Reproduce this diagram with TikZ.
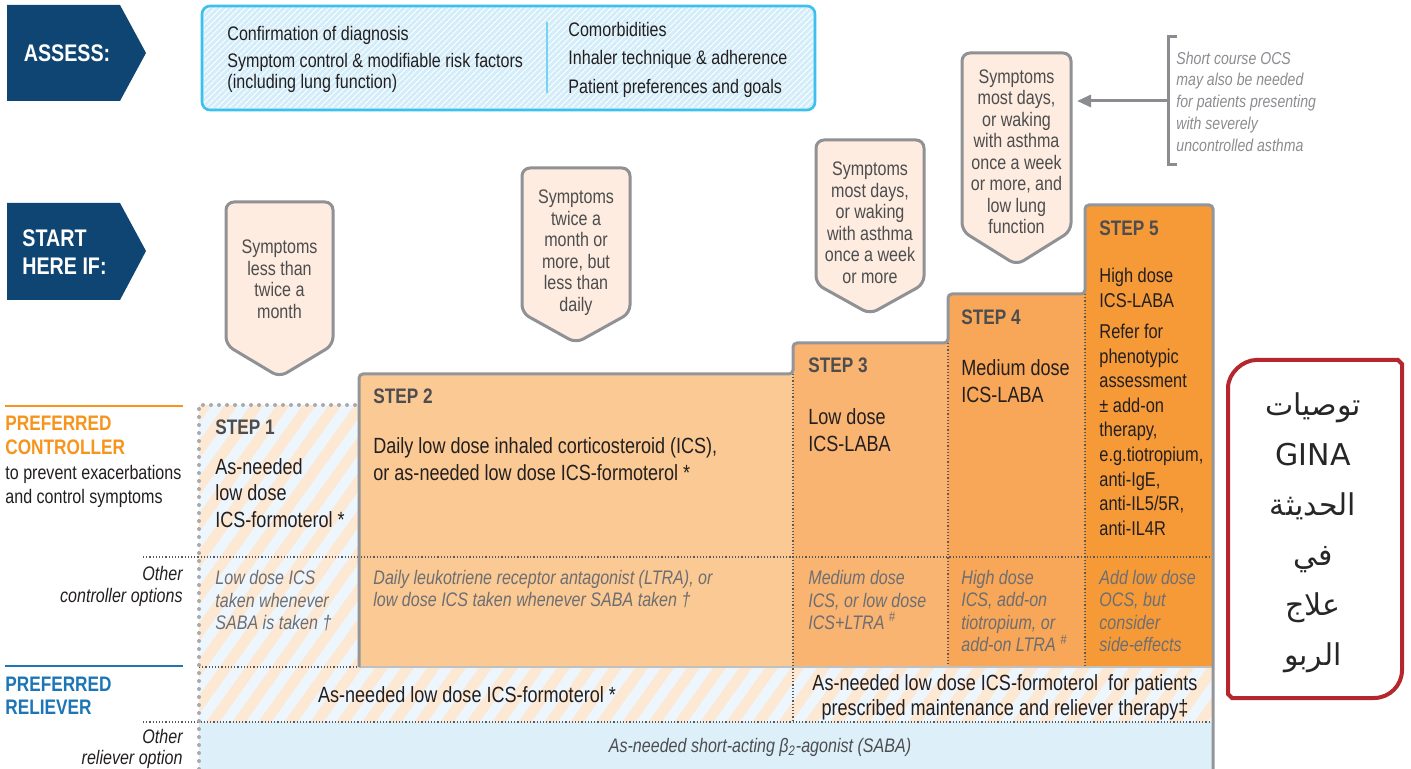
\documentclass[tikz,border=0pt]{standalone}
\usepackage{fontspec}
\setmainfont{Liberation Sans}[FakeStretch=0.82]
\newfontfamily\arabicfont[Script=Arabic]{DejaVu Sans}
\TeXXeTstate=1
\usepackage{xcolor}
\usepackage{tikz}
\usetikzlibrary{arrows.meta,patterns}

\definecolor{ginablue}{HTML}{0F4573}
\definecolor{assessline}{HTML}{3CC0EE}
\definecolor{assessfill}{HTML}{D3EEFA}
\definecolor{symfill}{HTML}{FDECDF}
\definecolor{symline}{HTML}{8F9194}
\definecolor{steptwo}{HTML}{FAC994}
\definecolor{stepthree}{HTML}{F9B472}
\definecolor{stepfour}{HTML}{F8A657}
\definecolor{stepfive}{HTML}{F69A38}
\definecolor{stripeblue}{HTML}{EDF6FC}
\definecolor{stripeorange}{HTML}{FDE8D4}
\definecolor{sababand}{HTML}{DDF0FA}
\definecolor{ctrlorange}{HTML}{F7941D}
\definecolor{relblue}{HTML}{1C75B5}
\definecolor{headgray}{HTML}{4D4D4F}
\definecolor{optgray}{HTML}{6D6E71}
\definecolor{ocsgray}{HTML}{8A8C8F}
\definecolor{outlinegray}{HTML}{939598}
\definecolor{arabicred}{HTML}{B5262D}
\definecolor{bodytext}{HTML}{231F20}

\newcommand{\symboxpath}[5]{%
  \draw[symshape] (#1,#3) -- (#2,#3) -- (#2,#4) -- ({(#1+#2)/2},#5) -- (#1,#4) -- cycle;}
\newcommand{\ctrlhead}[1]{\textcolor{ctrlorange}{\fontsize{10.5}{12.25}\selectfont\bfseries #1}}
\newcommand{\relhead}[1]{\textcolor{relblue}{\fontsize{10.5}{12.25}\selectfont\bfseries #1}}

\begin{document}
\begin{tikzpicture}[x=0.5pt, y=-0.5pt, every node/.style={inner sep=0pt},
  bluearrow/.style={fill=ginablue},
  arrowtxt/.style={text=white, font=\fontsize{12}{14}\selectfont\bfseries, align=left},
  symshape/.style={fill=symfill, draw=symline, line width=1.5pt, rounded corners=4pt},
  symtxt/.style={align=center, text=headgray, font=\fontsize{9.8}{10.75}\selectfont},
  hdr/.style={anchor=west, text=headgray, font=\fontsize{10.5}{12}\selectfont\bfseries},
  maintxt/.style={anchor=west, align=left, text=bodytext, font=\fontsize{11}{13.4}\selectfont},
  opttxt/.style={anchor=west, align=left, text=optgray, font=\fontsize{9.8}{11.1}\selectfont\itshape},
  lbl/.style={anchor=west, align=left, text=bodytext, font=\fontsize{9.8}{12.25}\selectfont},
  otherlbl/.style={anchor=east, align=right, text=bodytext, font=\fontsize{9.8}{11}\selectfont\itshape},
  sepline/.style={densely dotted, line width=0.6pt, black!65},
  dotborder/.style={line width=2pt, outlinegray!80, dash pattern=on 0pt off 4pt, line cap=round},
  >={Triangle[length=7pt, width=6pt]}]
  \useasboundingbox (0,0) rectangle (1411,769);

  % assess / start arrows
  \fill[bluearrow] (7,5) -- (120,5) -- (146,53) -- (120,101) -- (7,101) -- cycle;
  \node[arrowtxt] (assess) at (67,53) {ASSESS:};
  \fill[bluearrow] (7,203) -- (120,203) -- (146,251) -- (120,300) -- (7,300) -- cycle;
  \node[arrowtxt, anchor=west] (start) at (22,252) {START\\HERE IF:};

  % assess box
  \fill[assessfill, rounded corners=4pt] (202,6) rectangle (815,110);
  \fill[pattern=north east lines, pattern color=white] (204,8) rectangle (813,108);
  \draw[assessline, line width=1.3pt, rounded corners=4pt] (202,6) rectangle (815,110);
  \draw[assessline!70, line width=1.2pt] (547,22) -- (547,93);
  \node[lbl, font=\fontsize{9.8}{10.5}\selectfont] (assessleft) at (227,59.5)
    {Confirmation of diagnosis\\[3pt]Symptom control \& modifiable risk factors\\(including lung function)};
  \node[lbl, font=\fontsize{9.8}{14.25}\selectfont] (assessright) at (568,59.5)
    {Comorbidities\\Inhaler technique \& adherence\\Patient preferences and goals};

  % OCS note
  \draw[ocsgray, line width=1.5pt] (1177,37) -- (1168,37) -- (1168,165) -- (1177,165);
  \node[anchor=west, align=left, text=ocsgray, font=\fontsize{8.6}{10.9}\selectfont\itshape] (ocsnote) at (1176,101.5)
    {Short course OCS\\may also be needed\\for patients presenting\\with severely\\uncontrolled asthma};
  \coordinate (ocsbar) at (1168,101);
  \coordinate (sym4arr) at (1077,101);
  \draw[->, ocsgray, line width=1.5pt] (ocsbar) -- (sym4arr);

  % symptom boxes
  \symboxpath{226}{333}{202}{345}{377}
  \node[symtxt] (sym1) at (279.5,279.5) {Symptoms\\less than\\twice a\\month};
  \symboxpath{522}{630}{168}{313}{343}
  \node[symtxt] (sym2) at (576,252.5) {Symptoms\\twice a\\month or\\more, but\\less than\\daily};
  \symboxpath{816}{924}{140}{284}{314}
  \node[symtxt] (sym3) at (870,223) {Symptoms\\most days,\\or waking\\with asthma\\once a week\\or more};
  \symboxpath{962}{1071}{53}{231}{265}
  \node[symtxt] (sym4) at (1016.5,152) {Symptoms\\most days,\\or waking\\with asthma\\once a week\\or more, and\\low lung\\function};

  % striped step 1 and reliever row
  \begin{scope}
    \clip (199,405) rectangle (359,667) (199,667) rectangle (1213,722);
    \fill[stripeblue] (199,405) rectangle (1213,722);
    \foreach \s in {-60,-34,...,1220}
      \draw[stripeorange, line width=5.3pt] (\s,740) -- ++(260,-364);
  \end{scope}

  % steps 2 to 5
  \fill[steptwo] (359,374) rectangle (793,667);
  \fill[stepthree] (793,343) rectangle (948,667);
  \fill[stepfour] (948,294) rectangle (1085,667);
  \fill[stepfive] (1085,205) rectangle (1213,667);
  \fill[sababand] (199,722) rectangle (1213,769);

  % separators
  \draw[sepline] (143,557) -- (1213,557);
  \draw[sepline] (143,722) -- (1213,722);
  \draw[sepline] (199,667) -- (359,667);
  \draw[sepline] (793,374) -- (793,722);
  \draw[sepline] (948,343) -- (948,667);
  \draw[sepline] (1085,294) -- (1085,667);
  \draw[outlinegray!60, line width=0.8pt] (359,667) -- (1213,667);
  \draw[outlinegray, line width=1.5pt, rounded corners=2pt] (359,667) -- (359,374) -- (793,374) -- (793,343)
    -- (948,343) -- (948,294) -- (1085,294) -- (1085,205) -- (1213,205) -- (1213,769);
  \draw[dotborder] (199,769) -- (199,405) -- (359,405);

  % row labels
  \draw[ctrlorange, line width=0.9pt] (5,406) -- (183,406);
  \node[lbl] (ctrllbl) at (5,462)
    {\ctrlhead{PREFERRED}\\\ctrlhead{CONTROLLER}\\to prevent exacerbations\\and control symptoms};
  \node[otherlbl] (ctrlother) at (183,586) {Other\\controller options};
  \draw[relblue, line width=0.9pt] (5,666) -- (183,666);
  \node[lbl, font=\fontsize{9.8}{11.5}\selectfont] (rellbl) at (5,695.5) {\relhead{PREFERRED}\\\relhead{RELIEVER}};
  \node[otherlbl, font=\fontsize{9.8}{10.5}\selectfont\itshape] (relother) at (183,749) {Other\\reliever option};

  % step texts
  \node[hdr] (step1) at (215,427) {STEP 1};
  \node[maintxt, font=\fontsize{11}{13.25}\selectfont] (ctrl1) at (215,493) {As-needed\\low dose\\ICS-formoterol *};
  \node[opttxt, font=\fontsize{9.8}{11.25}\selectfont\itshape] (opt1) at (215,601) {Low dose ICS\\taken whenever\\SABA is taken †};
  \node[hdr] (step2) at (373,396) {STEP 2};
  \node[maintxt] (ctrl2) at (373,459.5) {Daily low dose inhaled corticosteroid (ICS),\\or as-needed low dose ICS-formoterol *};
  \node[opttxt] (opt2) at (373,589) {Daily leukotriene receptor antagonist (LTRA), or\\low dose ICS taken whenever SABA taken †};
  \node[hdr] (step3) at (808,365) {STEP 3};
  \node[maintxt] (ctrl3) at (808,430) {Low dose\\ICS-LABA};
  \node[opttxt] (opt3) at (808,600) {Medium dose\\ICS, or low dose\\ICS+LTRA \textsuperscript{\#}};
  \node[hdr] (step4) at (961,317) {STEP 4};
  \node[maintxt] (ctrl4) at (961,381.5) {Medium dose\\ICS-LABA};
  \node[opttxt] (opt4) at (961,611) {High dose\\ICS, add-on\\tiotropium, or\\add-on LTRA \textsuperscript{\#}};
  \node[hdr] (step5) at (1099,228) {STEP 5};
  \node[maintxt, font=\fontsize{10}{12.3}\selectfont] (ctrl5) at (1099,402)
    {High dose\\ICS-LABA\\[3.2pt]Refer for\\phenotypic\\assessment\\± add-on\\therapy,\\e.g.tiotropium,\\anti-IgE,\\anti-IL5/5R,\\anti-IL4R};
  \node[opttxt] (opt5) at (1099,611) {Add low dose\\OCS, but\\consider\\side-effects};

  % reliever texts
  \node[maintxt, anchor=center] (relief1) at (467,694.5) {As-needed low dose ICS-formoterol *};
  \node[maintxt, anchor=center, align=center, font=\fontsize{11}{12.5}\selectfont] (relief2) at (1005,697.5)
    {As-needed low dose ICS-formoterol\ \ for patients\\prescribed maintenance and reliever therapy‡};
  \node[text=headgray, font=\fontsize{9.8}{11}\selectfont\itshape] (saba) at (760,747)
    {As-needed short-acting β\textsubscript{2}-agonist (SABA)};

  % arabic box
  \draw[arabicred, line width=2pt] (1228,388) .. controls (1228,372.5) and (1243.5,360) .. (1256,360)
    -- (1398,360) -- (1402,364) -- (1402,670) .. controls (1402,685.5) and (1389.5,698) .. (1374,698)
    -- (1232,698) -- (1228,694) -- cycle;
  \node[align=center, text=black!85, font=\arabicfont\fontsize{15}{25}\selectfont] (gina) at (1313,533)
    {\beginR توصيات\endR\\GINA\\\beginR الحديثة\endR\\\beginR في\endR\\\beginR علاج\endR\\\beginR الربو\endR};
\end{tikzpicture}
\end{document}
